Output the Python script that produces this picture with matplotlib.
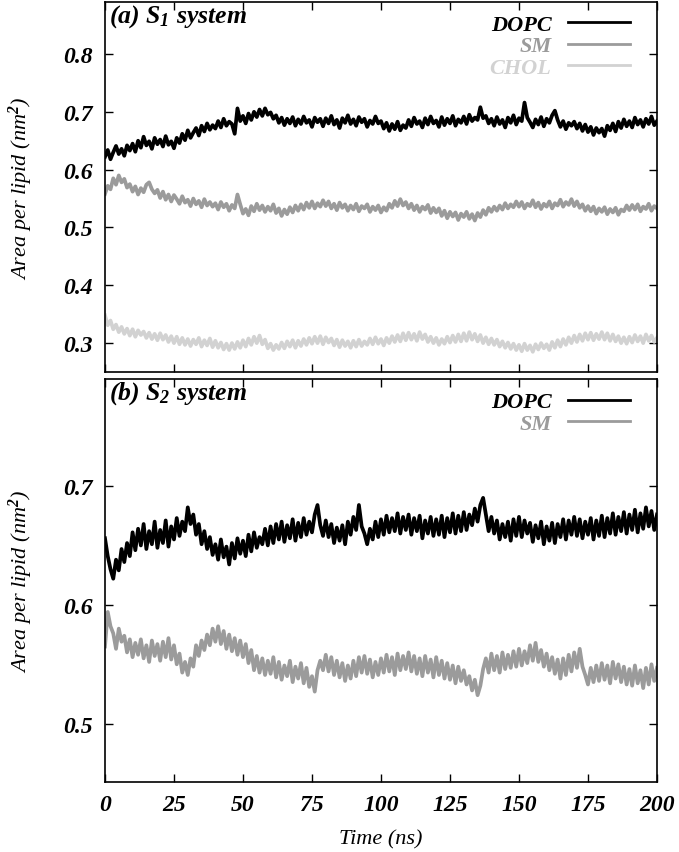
import numpy as np
import matplotlib
matplotlib.use("Agg")
import matplotlib.pyplot as plt

# Simulation time axis (ns), one sample per ns
TIME = np.arange(0, 201)

# (a) S1 system: area per lipid (nm^2)
S1_DOPC = [
    0.622, 0.634, 0.618, 0.630, 0.641, 0.627, 0.636, 0.624, 0.642, 0.633,
    0.645, 0.631, 0.650, 0.638, 0.657, 0.642, 0.649, 0.636, 0.655, 0.644,
    0.652, 0.640, 0.658, 0.643, 0.649, 0.637, 0.655, 0.646, 0.662, 0.651,
    0.668, 0.655, 0.664, 0.672, 0.659, 0.676, 0.666, 0.680, 0.669, 0.677,
    0.671, 0.684, 0.673, 0.688, 0.676, 0.683, 0.679, 0.662, 0.706, 0.684,
    0.693, 0.680, 0.697, 0.686, 0.700, 0.691, 0.704, 0.693, 0.706, 0.695,
    0.699, 0.688, 0.694, 0.681, 0.690, 0.677, 0.688, 0.680, 0.691, 0.676,
    0.687, 0.679, 0.692, 0.681, 0.686, 0.674, 0.690, 0.682, 0.688, 0.675,
    0.689, 0.680, 0.693, 0.678, 0.686, 0.672, 0.689, 0.681, 0.694, 0.679,
    0.687, 0.676, 0.691, 0.682, 0.688, 0.674, 0.685, 0.679, 0.692, 0.680,
    0.684, 0.671, 0.681, 0.667, 0.679, 0.670, 0.683, 0.668, 0.677, 0.672,
    0.686, 0.675, 0.690, 0.679, 0.684, 0.673, 0.689, 0.678, 0.692, 0.680,
    0.685, 0.674, 0.691, 0.677, 0.688, 0.680, 0.693, 0.676, 0.687, 0.681,
    0.692, 0.679, 0.695, 0.684, 0.690, 0.686, 0.708, 0.689, 0.693, 0.680,
    0.688, 0.676, 0.691, 0.679, 0.686, 0.673, 0.690, 0.681, 0.694, 0.678,
    0.689, 0.684, 0.716, 0.690, 0.682, 0.673, 0.687, 0.678, 0.691, 0.675,
    0.688, 0.681, 0.694, 0.702, 0.686, 0.674, 0.684, 0.670, 0.681, 0.676,
    0.683, 0.671, 0.680, 0.667, 0.678, 0.665, 0.674, 0.660, 0.672, 0.664,
    0.671, 0.658, 0.676, 0.668, 0.680, 0.666, 0.683, 0.672, 0.687, 0.675,
    0.684, 0.673, 0.690, 0.678, 0.686, 0.674, 0.688, 0.679, 0.692, 0.677,
    0.684,
]
S1_SM = [
    0.558, 0.572, 0.566, 0.585, 0.574, 0.590, 0.578, 0.584, 0.569, 0.575,
    0.562, 0.571, 0.557, 0.568, 0.561, 0.574, 0.578, 0.566, 0.559, 0.565,
    0.551, 0.562, 0.548, 0.557, 0.545, 0.556, 0.549, 0.541, 0.554, 0.543,
    0.548, 0.537, 0.550, 0.540, 0.546, 0.535, 0.549, 0.538, 0.544, 0.536,
    0.542, 0.531, 0.544, 0.535, 0.541, 0.529, 0.539, 0.533, 0.557, 0.540,
    0.524, 0.532, 0.521, 0.537, 0.528, 0.541, 0.530, 0.538, 0.527, 0.536,
    0.529, 0.540, 0.525, 0.533, 0.520, 0.531, 0.523, 0.535, 0.526, 0.538,
    0.529, 0.540, 0.531, 0.543, 0.534, 0.545, 0.533, 0.542, 0.536, 0.547,
    0.537, 0.545, 0.533, 0.541, 0.530, 0.543, 0.534, 0.540, 0.529, 0.538,
    0.531, 0.541, 0.528, 0.537, 0.533, 0.540, 0.527, 0.536, 0.530, 0.538,
    0.526, 0.535, 0.529, 0.541, 0.534, 0.546, 0.537, 0.549, 0.538, 0.544,
    0.533, 0.541, 0.530, 0.538, 0.527, 0.536, 0.531, 0.539, 0.525, 0.534,
    0.526, 0.533, 0.520, 0.529, 0.516, 0.527, 0.519, 0.526, 0.513, 0.524,
    0.518, 0.527, 0.515, 0.523, 0.512, 0.525, 0.518, 0.530, 0.522, 0.534,
    0.527, 0.536, 0.529, 0.538, 0.531, 0.542, 0.533, 0.540, 0.535, 0.545,
    0.536, 0.544, 0.533, 0.541, 0.537, 0.547, 0.535, 0.543, 0.532, 0.541,
    0.536, 0.545, 0.533, 0.542, 0.538, 0.548, 0.536, 0.544, 0.539, 0.549,
    0.537, 0.545, 0.534, 0.540, 0.529, 0.537, 0.528, 0.536, 0.524, 0.533,
    0.527, 0.535, 0.523, 0.532, 0.526, 0.534, 0.522, 0.531, 0.528, 0.538,
    0.530, 0.539, 0.531, 0.540, 0.528, 0.536, 0.532, 0.541, 0.529, 0.537,
    0.533,
]
S1_CHOL = [
    0.348, 0.331, 0.339, 0.324, 0.332, 0.319, 0.328, 0.316, 0.325, 0.313,
    0.324, 0.311, 0.322, 0.314, 0.320, 0.309, 0.318, 0.307, 0.316, 0.305,
    0.317, 0.306, 0.314, 0.302, 0.312, 0.300, 0.311, 0.298, 0.309, 0.297,
    0.307, 0.295, 0.306, 0.298, 0.309, 0.294, 0.305, 0.296, 0.308, 0.293,
    0.304, 0.292, 0.301, 0.289, 0.299, 0.288, 0.300, 0.290, 0.302, 0.292,
    0.305, 0.294, 0.308, 0.297, 0.311, 0.300, 0.313, 0.298, 0.306, 0.291,
    0.299, 0.288, 0.297, 0.290, 0.301, 0.291, 0.303, 0.294, 0.305, 0.292,
    0.304, 0.295, 0.307, 0.297, 0.309, 0.299, 0.311, 0.300, 0.312, 0.298,
    0.310, 0.301, 0.308, 0.296, 0.306, 0.293, 0.305, 0.295, 0.303, 0.292,
    0.304, 0.294, 0.306, 0.295, 0.303, 0.297, 0.308, 0.298, 0.310, 0.299,
    0.307, 0.296, 0.309, 0.300, 0.312, 0.302, 0.314, 0.303, 0.317, 0.305,
    0.318, 0.306, 0.316, 0.304, 0.319, 0.307, 0.315, 0.302, 0.311, 0.300,
    0.309, 0.297, 0.307, 0.299, 0.311, 0.301, 0.313, 0.302, 0.315, 0.303,
    0.317, 0.304, 0.319, 0.306, 0.316, 0.303, 0.314, 0.300, 0.310, 0.298,
    0.308, 0.297, 0.306, 0.294, 0.303, 0.292, 0.301, 0.290, 0.299, 0.288,
    0.297, 0.286, 0.299, 0.288, 0.296, 0.285, 0.298, 0.289, 0.300, 0.291,
    0.298, 0.288, 0.302, 0.292, 0.305, 0.294, 0.307, 0.297, 0.310, 0.300,
    0.313, 0.302, 0.315, 0.304, 0.317, 0.306, 0.318, 0.305, 0.316, 0.307,
    0.319, 0.306, 0.317, 0.304, 0.315, 0.303, 0.312, 0.300, 0.310, 0.299,
    0.311, 0.301, 0.314, 0.303, 0.312, 0.300, 0.315, 0.304, 0.313, 0.302,
    0.309,
]

# (b) S2 system: area per lipid (nm^2)
S2_DOPC = [
    0.656, 0.641, 0.630, 0.622, 0.638, 0.629, 0.647, 0.636, 0.652, 0.641,
    0.661, 0.646, 0.664, 0.650, 0.668, 0.647, 0.662, 0.651, 0.670, 0.648,
    0.663, 0.652, 0.671, 0.649, 0.666, 0.655, 0.673, 0.658, 0.670, 0.662,
    0.682, 0.668, 0.676, 0.659, 0.668, 0.651, 0.662, 0.647, 0.657, 0.642,
    0.651, 0.638, 0.655, 0.640, 0.649, 0.634, 0.652, 0.639, 0.656, 0.643,
    0.654, 0.641, 0.659, 0.645, 0.661, 0.648, 0.657, 0.651, 0.664, 0.650,
    0.666, 0.652, 0.668, 0.655, 0.670, 0.653, 0.667, 0.656, 0.672, 0.654,
    0.669, 0.657, 0.673, 0.659, 0.670, 0.661, 0.676, 0.684, 0.667, 0.658,
    0.671, 0.657, 0.668, 0.652, 0.665, 0.654, 0.667, 0.651, 0.670, 0.659,
    0.674, 0.663, 0.684, 0.666, 0.660, 0.651, 0.664, 0.655, 0.670, 0.657,
    0.672, 0.659, 0.675, 0.661, 0.673, 0.662, 0.677, 0.660, 0.674, 0.663,
    0.676, 0.659, 0.673, 0.662, 0.675, 0.656, 0.671, 0.660, 0.674, 0.658,
    0.672, 0.659, 0.675, 0.657, 0.673, 0.661, 0.677, 0.660, 0.675, 0.662,
    0.678, 0.663, 0.676, 0.667, 0.681, 0.670, 0.684, 0.690, 0.676, 0.662,
    0.674, 0.660, 0.671, 0.655, 0.668, 0.657, 0.670, 0.654, 0.672, 0.658,
    0.674, 0.657, 0.671, 0.660, 0.669, 0.653, 0.667, 0.656, 0.670, 0.651,
    0.666, 0.654, 0.669, 0.652, 0.668, 0.657, 0.672, 0.655, 0.671, 0.659,
    0.674, 0.658, 0.672, 0.656, 0.670, 0.659, 0.673, 0.655, 0.671, 0.658,
    0.675, 0.657, 0.673, 0.660, 0.677, 0.659, 0.674, 0.662, 0.678, 0.660,
    0.676, 0.663, 0.680, 0.661, 0.677, 0.664, 0.682, 0.666, 0.679, 0.663,
    0.676,
]
S2_SM = [
    0.565, 0.594, 0.582, 0.576, 0.563, 0.580, 0.569, 0.574, 0.560, 0.571,
    0.556, 0.568, 0.558, 0.571, 0.555, 0.566, 0.552, 0.570, 0.557, 0.567,
    0.553, 0.569, 0.556, 0.572, 0.554, 0.566, 0.550, 0.559, 0.543, 0.552,
    0.541, 0.555, 0.548, 0.566, 0.557, 0.570, 0.562, 0.575, 0.566, 0.580,
    0.569, 0.582, 0.567, 0.578, 0.563, 0.575, 0.561, 0.572, 0.558, 0.570,
    0.556, 0.567, 0.551, 0.562, 0.545, 0.557, 0.543, 0.555, 0.541, 0.553,
    0.542, 0.556, 0.539, 0.552, 0.537, 0.549, 0.540, 0.553, 0.535, 0.548,
    0.538, 0.551, 0.534, 0.547, 0.531, 0.540, 0.527, 0.545, 0.553, 0.545,
    0.558, 0.544, 0.556, 0.541, 0.553, 0.539, 0.551, 0.536, 0.549, 0.538,
    0.553, 0.540, 0.556, 0.543, 0.557, 0.542, 0.554, 0.539, 0.552, 0.541,
    0.555, 0.543, 0.558, 0.544, 0.556, 0.541, 0.559, 0.545, 0.557, 0.546,
    0.560, 0.544, 0.557, 0.542, 0.555, 0.540, 0.557, 0.543, 0.554, 0.539,
    0.556, 0.541, 0.553, 0.538, 0.551, 0.537, 0.549, 0.534, 0.548, 0.536,
    0.545, 0.533, 0.540, 0.528, 0.537, 0.524, 0.532, 0.546, 0.555, 0.543,
    0.559, 0.545, 0.557, 0.543, 0.560, 0.546, 0.558, 0.547, 0.561, 0.548,
    0.563, 0.549, 0.561, 0.551, 0.566, 0.553, 0.568, 0.552, 0.562, 0.548,
    0.559, 0.545, 0.556, 0.542, 0.554, 0.538, 0.555, 0.541, 0.558, 0.544,
    0.560, 0.547, 0.563, 0.548, 0.541, 0.533, 0.547, 0.535, 0.549, 0.536,
    0.551, 0.537, 0.549, 0.534, 0.552, 0.538, 0.550, 0.535, 0.548, 0.533,
    0.546, 0.532, 0.549, 0.534, 0.545, 0.530, 0.547, 0.533, 0.550, 0.536,
    0.547,
]

X_TICKS = [0, 25, 50, 75, 100, 125, 150, 175, 200]
S1_Y_TICKS = [0.3, 0.4, 0.5, 0.6, 0.7, 0.8]
S2_Y_TICKS = [0.5, 0.6, 0.7]

COLORS = {"DOPC": "#000000", "SM": "#9b9b9b", "CHOL": "#d2d2d2"}

plt.rcParams["font.family"] = "Liberation Serif"
plt.rcParams["font.style"] = "italic"
plt.rcParams["font.weight"] = "bold"
plt.rcParams["mathtext.fontset"] = "custom"
plt.rcParams["mathtext.rm"] = "Liberation Serif:italic:bold"
plt.rcParams["mathtext.it"] = "Liberation Serif:italic:bold"
plt.rcParams["mathtext.bf"] = "Liberation Serif:italic:bold"
plt.rcParams["mathtext.default"] = "rm"

TICK_FS = 17
LABEL_FS = 16
LW = 2.7


def style_axis(ax, yticks, ylim, show_xlabels):
    ax.set_xlim(0, 200)
    ax.set_ylim(*ylim)
    ax.set_xticks(X_TICKS)
    ax.set_yticks(yticks)
    ax.tick_params(direction="in", top=True, right=True, length=6,
                   width=1.0, labelsize=TICK_FS, pad=9)
    if not show_xlabels:
        ax.tick_params(labelbottom=False)
    ax.yaxis.set_major_formatter(plt.FormatStrFormatter("%.1f"))
    for spine in ax.spines.values():
        spine.set_linewidth(1.2)
    ax.set_ylabel("Area per lipid (nm$^2$)", fontsize=LABEL_FS)
    ax.yaxis.set_label_coords(-0.126, 0.5)


fig = plt.figure(figsize=(6.79, 8.53), dpi=100)
ax1 = fig.add_axes([0.1546, 0.5627, 0.813, 0.4338])
ax2 = fig.add_axes([0.1546, 0.0821, 0.813, 0.4724])

ax1.plot(TIME, S1_DOPC, color=COLORS["DOPC"], lw=LW, label="DOPC")
ax1.plot(TIME, S1_SM, color=COLORS["SM"], lw=LW, label="SM")
ax1.plot(TIME, S1_CHOL, color=COLORS["CHOL"], lw=LW, label="CHOL")
style_axis(ax1, S1_Y_TICKS, (0.25, 0.89), False)
ax1.text(0.008, 1.0, "(a) $S_1$ system", transform=ax1.transAxes,
         ha="left", va="top", fontsize=18.5)

ax2.plot(TIME, S2_DOPC, color=COLORS["DOPC"], lw=LW, label="DOPC")
ax2.plot(TIME, S2_SM, color=COLORS["SM"], lw=LW, label="SM")
style_axis(ax2, S2_Y_TICKS, (0.451, 0.79), True)
ax2.text(0.008, 1.0, "(b) $S_2$ system", transform=ax2.transAxes,
         ha="left", va="top", fontsize=18.5)
ax2.set_xlabel("Time (ns)", fontsize=LABEL_FS, labelpad=10)

for ax in (ax1, ax2):
    leg = ax.legend(loc="upper right", bbox_to_anchor=(0.964, 0.985),
                    frameon=False, markerfirst=False, labelcolor="linecolor",
                    fontsize=LABEL_FS, handlelength=2.8, handletextpad=0.75,
                    labelspacing=0.05, borderaxespad=0.1, borderpad=0.2)
    for line in leg.get_lines():
        line.set_linewidth(2.0)

fig.savefig("out.png", dpi=100)
